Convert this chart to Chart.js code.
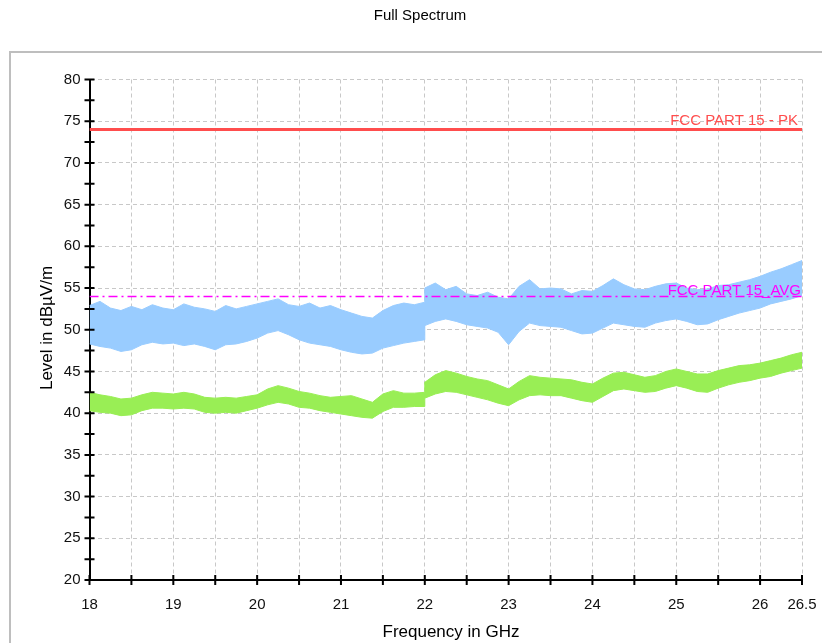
<!DOCTYPE html>
<html>
<head>
<meta charset="utf-8">
<script src="https://cdn.jsdelivr.net/npm/chart.js@4.4.0/dist/chart.umd.min.js"></script>
<style>
  body { margin: 0; background: #fff; }
  #wrap { width: 822px; height: 643px; position: relative; }
</style>
</head>
<body>
<div id="wrap"><canvas id="graph"></canvas></div>
<script>
const blue =    'rgb(153, 204, 255)'
const green =   'rgb(153, 238, 85)'
const red =     'rgb(255, 77, 77)'
const magenta = 'rgb(255, 0, 255)'
const gridGrey = 'rgb(200, 200, 200)'

// frequency points in GHz (22 twice = the step in the trace)
const freq = [18, 18.125, 18.25, 18.375, 18.5, 18.625, 18.75, 18.875,
  19, 19.125, 19.25, 19.375, 19.5, 19.625, 19.75, 19.875,
  20, 20.125, 20.25, 20.375, 20.5, 20.625, 20.75, 20.875,
  21, 21.125, 21.25, 21.375, 21.5, 21.625, 21.75, 21.875,
  22, 22, 22.125, 22.25, 22.375, 22.5, 22.625, 22.75, 22.875,
  23, 23.125, 23.25, 23.375, 23.5, 23.625, 23.75, 23.875,
  24, 24.125, 24.25, 24.375, 24.5, 24.625, 24.75, 24.875,
  25, 25.125, 25.25, 25.375, 25.5, 25.625, 25.75, 25.875,
  26, 26.125, 26.25, 26.375, 26.5]

// peak trace (blue) upper / lower edge, dBuV/m
const peakHigh = [52.9, 53.4, 52.6, 52.3, 52.8, 52.4, 53.0, 52.6,
  52.4, 53.1, 52.7, 52.5, 52.2, 52.9, 52.5, 52.8,
  53.1, 53.4, 53.7, 53.0, 52.8, 53.2, 52.6, 52.9,
  52.4, 52.0, 51.6, 51.4, 52.3, 52.9, 53.2, 53.0,
  53.3, 55.0, 55.6, 54.8, 55.2, 54.3, 54.1, 54.5, 53.9,
  53.7, 55.2, 56.0, 54.9, 55.0, 54.9, 54.3, 54.7,
  54.6, 55.3, 56.1, 55.4, 54.9, 54.8, 55.2, 55.5,
  55.6, 55.0, 54.8, 54.9, 55.3, 55.4, 55.7, 56.0,
  56.4, 56.9, 57.3, 57.8, 58.3]
const peakLow = [48.3, 48.0, 47.8, 47.4, 47.6, 48.2, 48.5, 48.3,
  48.4, 48.1, 48.3, 48.0, 47.6, 48.2, 48.3, 48.6,
  49.0, 49.6, 49.9, 49.4, 48.8, 48.4, 48.2, 48.0,
  47.6, 47.3, 47.1, 47.2, 47.8, 48.1, 48.4, 48.6,
  48.8, 50.5, 51.0, 51.3, 51.0, 50.6, 50.4, 50.2, 49.7,
  48.2, 49.8, 50.8, 50.5, 50.4, 50.3, 49.9, 49.5,
  49.6, 50.2, 50.8, 50.6, 50.4, 50.3, 50.8, 51.1,
  51.3, 51.0, 50.6, 50.7, 51.2, 51.6, 52.0, 52.3,
  52.6, 53.1, 53.4, 53.7, 54.1]

// average trace (green) upper / lower edge
const avgHigh = [42.5, 42.2, 42.0, 41.7, 41.8, 42.2, 42.5, 42.4,
  42.3, 42.5, 42.3, 41.9, 41.8, 41.9, 41.8, 42.0,
  42.2, 42.9, 43.3, 43.0, 42.6, 42.4, 42.1, 41.9,
  42.0, 42.1, 41.7, 41.3, 42.3, 42.7, 42.4, 42.4,
  42.5, 43.7, 44.6, 45.1, 44.8, 44.4, 44.1, 43.9, 43.4,
  42.9, 43.8, 44.5, 44.3, 44.2, 44.1, 44.0, 43.7,
  43.5, 44.2, 44.8, 44.9, 44.6, 44.3, 44.5, 45.0,
  45.3, 45.0, 44.7, 44.7, 45.1, 45.4, 45.7, 45.8,
  46.0, 46.3, 46.6, 47.0, 47.3]
const avgLow = [40.3, 40.1, 40.0, 39.7, 39.8, 40.3, 40.6, 40.6,
  40.5, 40.6, 40.5, 40.1, 40.0, 40.1, 40.0, 40.3,
  40.6, 41.0, 41.3, 41.1, 40.7, 40.6, 40.3, 40.1,
  39.9, 39.7, 39.5, 39.4, 40.2, 40.7, 40.7, 40.8,
  40.8, 41.8, 42.3, 42.6, 42.5, 42.2, 41.9, 41.6, 41.2,
  40.9, 41.6, 42.1, 42.2, 42.1, 42.1, 41.8, 41.5,
  41.3, 42.0, 42.7, 42.9, 42.7, 42.5, 42.6, 43.0,
  43.3, 43.0, 42.6, 42.5, 43.0, 43.4, 43.7, 43.9,
  44.2, 44.4, 44.8, 45.1, 45.4]

// limit lines
const limitNames = ['FCC PART 15 - PK', 'FCC PART 15_AVG']
const limitValues = [74, 54]

// ticks
const xTickValues = [18, 18.5, 19, 19.5, 20, 20.5, 21, 21.5, 22, 22.5, 23, 23.5, 24, 24.5, 25, 25.5, 26, 26.5]
const xTickLabels = ['18', '', '19', '', '20', '', '21', '', '22', '', '23', '', '24', '', '25', '', '26', '26.5']

function toPoints(ys) {
    return ys.map((y, i) => ({x: freq[i], y: y}))
}

//Frame, title, axis titles, crossing tick marks and limit labels
const decor = {
    id: 'decor',
    beforeDraw(chart) {
        const ctx = chart.ctx
        ctx.save()
        ctx.fillStyle = '#fff'
        ctx.fillRect(0, 0, chart.width, chart.height)
        ctx.strokeStyle = 'rgb(190, 190, 190)'
        ctx.lineWidth = 2
        ctx.strokeRect(10, 52, 840, 620)
        ctx.fillStyle = '#000'
        ctx.font = '15px "Liberation Sans"'
        ctx.textAlign = 'center'
        ctx.textBaseline = 'middle'
        ctx.fillText('Full Spectrum', 420, 16)
        ctx.restore()
    },
    afterDraw(chart) {
        const ctx = chart.ctx
        const xs = chart.scales.x
        const ys = chart.scales.y
        const area = chart.chartArea
        ctx.save()
        ctx.strokeStyle = '#000'
        ctx.lineWidth = 2
        ctx.beginPath()
        for (const v of xTickValues) {
            const px = xs.getPixelForValue(v)
            ctx.moveTo(px, area.bottom - 5)
            ctx.lineTo(px, area.bottom + 5)
        }
        for (let v = 20; v <= 80; v += 2.5) {
            const py = ys.getPixelForValue(v)
            ctx.moveTo(area.left - 5, py)
            ctx.lineTo(area.left + 5, py)
        }
        ctx.stroke()

        //limit labels
        ctx.font = '15px "Liberation Sans"'
        ctx.textAlign = 'right'
        ctx.textBaseline = 'bottom'
        ctx.fillStyle = red
        ctx.fillText(limitNames[0], area.right - 4, ys.getPixelForValue(limitValues[0]) - 1)
        ctx.fillStyle = magenta
        ctx.fillText(limitNames[1], area.right - 1, ys.getPixelForValue(limitValues[1]) + 2)

        //axis titles
        ctx.fillStyle = '#000'
        ctx.font = '17px "Liberation Sans"'
        ctx.textAlign = 'center'
        ctx.textBaseline = 'middle'
        ctx.fillText('Frequency in GHz', 451, 632)
        ctx.translate(47, 328)
        ctx.rotate(-Math.PI / 2)
        ctx.fillText('Level in dBµV/m', 0, 0)
        ctx.restore()
    }
}

const ctx = document.getElementById('graph')
new Chart(ctx, {
    type: 'line',
    data: {
        datasets: [
            {//limit PK
                data: [{x: 18, y: limitValues[0]}, {x: 26.5, y: limitValues[0]}],
                borderColor: red,
                borderWidth: 3,
                pointRadius: 0,
                fill: false,
            },
            {//limit AVG
                data: [{x: 18, y: limitValues[1]}, {x: 26.5, y: limitValues[1]}],
                borderColor: magenta,
                borderWidth: 1.5,
                borderDash: [9, 4, 2, 4],
                pointRadius: 0,
                fill: false,
            },
            {//peak upper
                data: toPoints(peakHigh),
                borderColor: blue,
                backgroundColor: blue,
                borderWidth: 1,
                pointRadius: 0,
                tension: 0,
                fill: '+1',
            },
            {//peak lower
                data: toPoints(peakLow),
                borderColor: blue,
                borderWidth: 1,
                pointRadius: 0,
                tension: 0,
                fill: false,
            },
            {//average upper
                data: toPoints(avgHigh),
                borderColor: green,
                backgroundColor: green,
                borderWidth: 1,
                pointRadius: 0,
                tension: 0,
                fill: '+1',
            },
            {//average lower
                data: toPoints(avgLow),
                borderColor: green,
                borderWidth: 1,
                pointRadius: 0,
                tension: 0,
                fill: false,
            },
        ]
    },
    options: {
        responsive: true,
        maintainAspectRatio: false,
        animation: false,
        layout: {
            padding: {left: 0, top: 79.5, right: 20, bottom: 0}
        },
        plugins: {
            legend: {display: false},
            tooltip: {enabled: false},
            title: {display: false},
        },
        scales: {
            x: {
                type: 'linear',
                min: 18,
                max: 26.5,
                afterBuildTicks: function(scale) {
                    scale.ticks = xTickValues.map(v => ({value: v}))
                },
                afterFit: function(scale) {
                    scale.height = 63
                    //no extra room for the last label, the outer padding is enough
                    scale.paddingRight = 0
                    scale.paddingLeft = 0
                },
                ticks: {
                    autoSkip: false,
                    maxRotation: 0,
                    padding: 16,
                    color: '#111',
                    font: {family: 'Liberation Sans', size: 15},
                    callback: function(value) {
                        return xTickLabels[xTickValues.indexOf(value)]
                    }
                },
                grid: {
                    color: gridGrey,
                    lineWidth: 1,
                    drawTicks: false,
                },
                border: {
                    color: '#000',
                    width: 2,
                    dash: [4, 3],
                }
            },
            y: {
                min: 20,
                max: 80,
                afterFit: function(scale) {
                    scale.width = 89.5
                    scale.paddingTop = 0
                    scale.paddingBottom = 0
                },
                ticks: {
                    stepSize: 2.5,
                    padding: 9,
                    color: '#111',
                    font: {family: 'Liberation Sans', size: 15},
                    callback: function(value) {
                        return value % 5 === 0 ? value : ''
                    }
                },
                grid: {
                    color: gridGrey,
                    lineWidth: 1,
                    drawTicks: false,
                },
                border: {
                    color: '#000',
                    width: 2,
                    dash: [4, 3],
                }
            }
        }
    },
    plugins: [decor]
})
</script>
</body>
</html>
